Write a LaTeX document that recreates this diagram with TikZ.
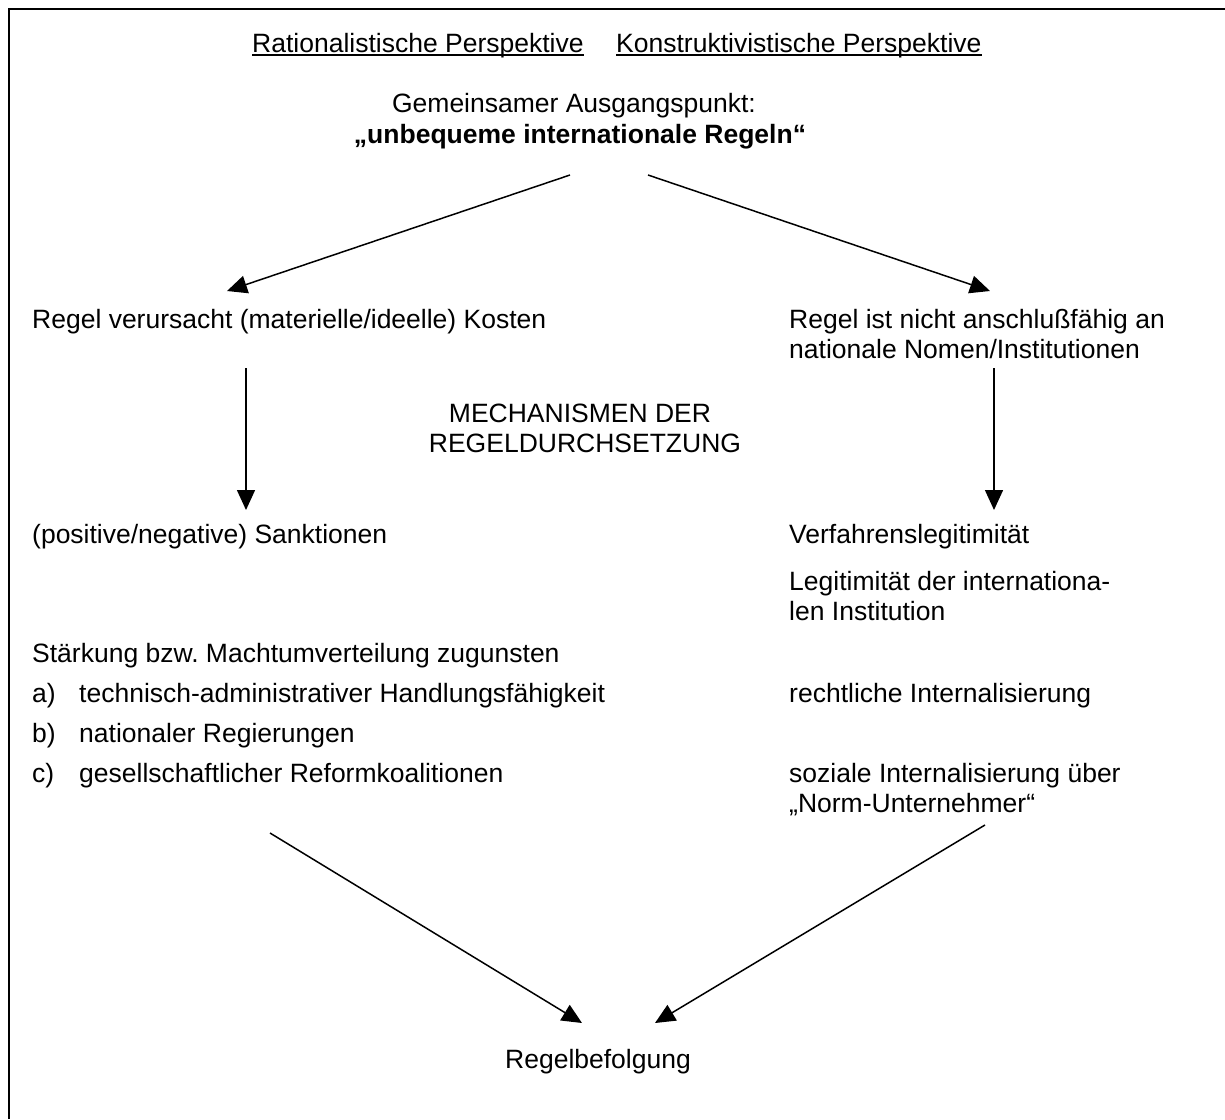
\documentclass[tikz,border=0pt]{standalone}
\usepackage{fontspec}
\setmainfont{Liberation Sans}
\usetikzlibrary{arrows.meta}
\frenchspacing
\begin{document}
\begin{tikzpicture}[x=1pt,y=-1pt,
  txt/.style={inner sep=0pt, anchor=base west, font=\fontsize{26.5}{30.5}\selectfont},
  ctxt/.style={inner sep=0pt, anchor=base, font=\fontsize{26.5}{30.5}\selectfont},
  arr/.style={line width=1.5pt, -{Triangle[length=20pt,width=18pt]}},
  uline/.style={line width=1.9pt}
]
\useasboundingbox (0,0) rectangle (1225,1119);
\draw[line width=2.5pt] (9,1119) -- (9,9) -- (1225,9);

% header
\node[txt] (h1) at (252,52) {Rationalistische Perspektive};
\node[txt] (h2) at (616,52) {Konstruktivistische Perspektive};
\draw[uline] ([yshift=-3pt]h1.base west) -- ([yshift=-3pt]h1.base east);
\draw[uline] ([yshift=-3pt]h2.base west) -- ([yshift=-3pt]h2.base east);

\node[ctxt] (g1) at (574,112.5) {Gemeinsamer Ausgangspunkt:};
\node[ctxt,font=\fontsize{26.5}{30.5}\selectfont\bfseries] (g2) at (580,143) {„unbequeme internationale Regeln“};

% left column
\node[txt] (l1) at (32,328) {Regel verursacht (materielle/ideelle) Kosten};
\node[txt] (l2) at (32,543) {(positive/negative) Sanktionen};
\node[txt] (l3) at (32,662) {Stärkung bzw. Machtumverteilung zugunsten};
\node[txt] (la) at (32,702) {a)};
\node[txt] (lat) at (79,702) {technisch-administrativer Handlungsfähigkeit};
\node[txt] (lb) at (32,742) {b)};
\node[txt] (lbt) at (79,742) {nationaler Regierungen};
\node[txt] (lc) at (32,782) {c)};
\node[txt] (lct) at (79,782) {gesellschaftlicher Reformkoalitionen};

% right column
\node[txt] (r1a) at (789,328) {Regel ist nicht anschlußfähig an};
\node[txt] (r1b) at (789,358.5) {nationale Nomen/Institutionen};
\node[txt] (r2) at (789,543) {Verfahrenslegitimität};
\node[txt] (r3a) at (789,590) {Legitimität der internationa-};
\node[txt] (r3b) at (789,620.5) {len Institution};
\node[txt] (r4) at (789,702) {rechtliche Internalisierung};
\node[txt] (r5a) at (789,782) {soziale Internalisierung über};
\node[txt] (r5b) at (789,812.5) {„Norm-Unternehmer“};

% middle
\node[ctxt] (m1) at (580,422) {MECHANISMEN DER};
\node[ctxt] (m2) at (585,452.5) {REGELDURCHSETZUNG};
\node[ctxt] (e) at (598,1068) {Regelbefolgung};

% arrow end points
\coordinate (a1s) at (570,175);
\coordinate (a1e) at (227,291);
\coordinate (a2s) at (648,175);
\coordinate (a2e) at (990,291);
\coordinate (v1s) at (246,368);
\coordinate (v1e) at (246,510);
\coordinate (v2s) at (994,368);
\coordinate (v2e) at (994,510);
\coordinate (b1s) at (270,833);
\coordinate (b1e) at (582,1023);
\coordinate (b2s) at (985,825);
\coordinate (b2e) at (655,1023);

\draw[arr] (a1s) -- (a1e);
\draw[arr] (a2s) -- (a2e);
\draw[arr] (v1s) -- (v1e);
\draw[arr] (v2s) -- (v2e);
\draw[arr] (b1s) -- (b1e);
\draw[arr] (b2s) -- (b2e);
\end{tikzpicture}
\end{document}
